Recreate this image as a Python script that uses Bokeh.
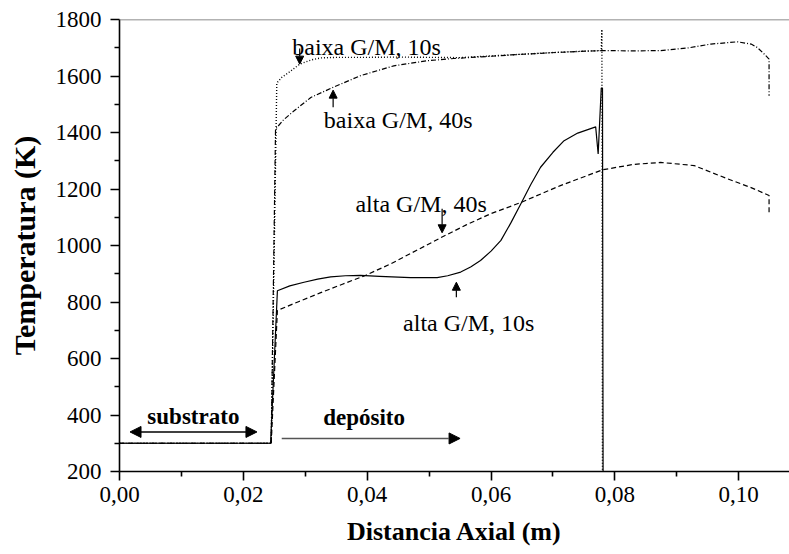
from bokeh.plotting import figure
from bokeh.models import Range1d, FixedTicker, CustomJSTickFormatter, Label, Arrow, NormalHead, Span
from bokeh.embed import file_html
from bokeh.resources import INLINE

# ---------------- data ----------------
x_ticks = [0.00, 0.02, 0.04, 0.06, 0.08, 0.10]
x_minor = [0.01, 0.03, 0.05, 0.07, 0.09]
y_ticks = [200, 400, 600, 800, 1000, 1200, 1400, 1600, 1800]
y_minor = [300, 500, 700, 900, 1100, 1300, 1500, 1700]

# baixa G/M, 10s (dotted)
baixa10_x = [0.0, 0.0245, 0.0254, 0.0262, 0.0275, 0.0291, 0.0310, 0.0325, 0.0350, 0.0400, 0.0450,
             0.0500, 0.0550, 0.0600, 0.0650, 0.0700, 0.0740, 0.0778, 0.0779, 0.0780]
baixa10_y = [300, 300, 1575, 1595, 1615, 1642, 1657, 1664, 1666, 1666, 1667,
             1666, 1665, 1671, 1677, 1683, 1687, 1690, 1765, 150]

# baixa G/M, 40s (dash-dot)
baixa40_x = [0.0, 0.0245, 0.0252, 0.0265, 0.0282, 0.0309, 0.0345, 0.0389, 0.0443, 0.0497, 0.0540,
             0.0600, 0.0650, 0.0712, 0.0777, 0.0830, 0.0874, 0.0917, 0.0955, 0.0998, 0.1020,
             0.1030, 0.1041, 0.1049, 0.1049]
baixa40_y = [300, 300, 1412, 1445, 1477, 1524, 1560, 1601, 1636, 1654, 1662,
             1670, 1677, 1684, 1690, 1689, 1690, 1699, 1713, 1721, 1713,
             1701, 1678, 1660, 1530]

# alta G/M, 40s (dashed)
alta40_x = [0.0, 0.0245, 0.0255, 0.0290, 0.0325, 0.0360, 0.0397, 0.0438, 0.0480, 0.0521, 0.0560,
            0.0600, 0.0648, 0.0712, 0.0780, 0.0830, 0.0874, 0.0928, 0.0982, 0.1020, 0.1049, 0.1049]
alta40_y = [300, 300, 770, 802, 833, 863, 894, 935, 983, 1030, 1073,
            1113, 1152, 1212, 1268, 1287, 1294, 1283, 1236, 1205, 1177, 1115]

# alta G/M, 10s (solid)
alta10_x = [0.0, 0.0244, 0.0255, 0.0275, 0.0298, 0.0320, 0.0341, 0.0365, 0.0389, 0.0420, 0.0470,
            0.0513, 0.0530, 0.0551, 0.0567, 0.0583, 0.0600, 0.0616, 0.0632, 0.0648, 0.0664,
            0.0680, 0.0700, 0.0718, 0.0740, 0.0769, 0.0773, 0.0778, 0.0780, 0.0781]
alta10_y = [300, 300, 840, 857, 870, 881, 889, 893, 894, 891, 886,
            886, 893, 906, 924, 947, 980, 1018, 1080, 1147, 1215,
            1277, 1330, 1371, 1398, 1420, 1324, 1557, 1557, 150]

# annotations: (text, x, y)
notes = [
    ("baixa G/M, 10s", 0.0279, 1701),
    ("baixa G/M, 40s", 0.0330, 1444),
    ("alta G/M, 40s", 0.0381, 1147),
    ("alta G/M, 10s", 0.0458, 725),
]
# small arrows: (x, y_start, y_end)
note_arrows = [
    (0.0291, 1697, 1642),
    (0.0345, 1489, 1550),
    (0.0521, 1130, 1045),
    (0.0544, 817, 870),
]
region_labels = [("substrato", 0.0045, 395), ("depósito", 0.0329, 391)]
sub_arrow = (0.0017, 0.0222, 340)
dep_arrow = (0.0262, 0.0550, 317)

# ---------------- figure ----------------
FONT = "Liberation Serif"
p = figure(width=789, height=554, output_backend="svg", toolbar_location=None,
           x_range=Range1d(0, 0.1082), y_range=Range1d(200, 1800),
           min_border_left=119, min_border_right=0, min_border_top=19, min_border_bottom=83)
p.outline_line_color = None
p.grid.visible = False
p.background_fill_color = "white"
p.border_fill_color = "white"

p.xaxis.ticker = FixedTicker(ticks=x_ticks, minor_ticks=x_minor)
p.yaxis.ticker = FixedTicker(ticks=y_ticks, minor_ticks=y_minor)
p.xaxis.formatter = CustomJSTickFormatter(code="return tick.toFixed(2).replace('.', ',');")

for ax in (p.xaxis, p.yaxis):
    ax.axis_line_width = 1.6
    ax.axis_line_color = "black"
    ax.major_tick_line_width = 1.6
    ax.minor_tick_line_width = 1.6
    ax.major_tick_in = 0
    ax.major_tick_out = 9
    ax.minor_tick_in = 0
    ax.minor_tick_out = 5
    ax.major_label_text_font = FONT
    ax.major_label_text_font_size = "23px"
    ax.major_label_text_color = "black"
    ax.axis_label_text_font = FONT
    ax.axis_label_text_font_style = "bold"
    ax.axis_label_text_color = "black"

p.xaxis.axis_label = "Distancia Axial (m)"
p.xaxis.axis_label_text_font_size = "26px"
p.xaxis.major_label_standoff = 6
p.xaxis.axis_label_standoff = 12
p.yaxis.axis_label = "Temperatura (K)"
p.yaxis.axis_label_text_font_size = "30px"
p.yaxis.major_label_standoff = 9
p.yaxis.axis_label_standoff = 12

p.add_layout(Span(location=1800, dimension="width", line_color="#666666", line_width=1.5))

p.line(alta40_x, alta40_y, line_color="black", line_width=1.2, line_dash="5 3")
p.line(baixa40_x, baixa40_y, line_color="black", line_width=1.2, line_dash="5 2 1 2")
p.line(baixa10_x, baixa10_y, line_color="black", line_width=1.4, line_dash="1 2")
p.line(alta10_x, alta10_y, line_color="black", line_width=1.2)

for t, x, y in notes:
    p.add_layout(Label(x=x, y=y, text=t, text_font=FONT, text_font_size="24px",
                       text_color="black", text_baseline="alphabetic"))
for x, y0, y1 in note_arrows:
    p.add_layout(Arrow(end=NormalHead(size=8, fill_color="black", line_color="black"),
                       x_start=x, y_start=y0, x_end=x, y_end=y1, line_width=1.2))

for t, x, y in region_labels:
    p.add_layout(Label(x=x, y=y, text=t, text_font=FONT, text_font_size="23px",
                       text_font_style="bold", text_color="black", text_baseline="alphabetic"))

p.add_layout(Arrow(start=NormalHead(size=11, fill_color="black", line_color="black"),
                   end=NormalHead(size=11, fill_color="black", line_color="black"),
                   x_start=sub_arrow[0], x_end=sub_arrow[1], y_start=sub_arrow[2], y_end=sub_arrow[2],
                   line_width=1.4, line_color="black"))
p.add_layout(Arrow(end=NormalHead(size=11, fill_color="black", line_color="black"),
                   x_start=dep_arrow[0], x_end=dep_arrow[1], y_start=dep_arrow[2], y_end=dep_arrow[2],
                   line_width=1.4, line_color="#555555"))

open("out.html", "w").write(file_html(p, INLINE))
